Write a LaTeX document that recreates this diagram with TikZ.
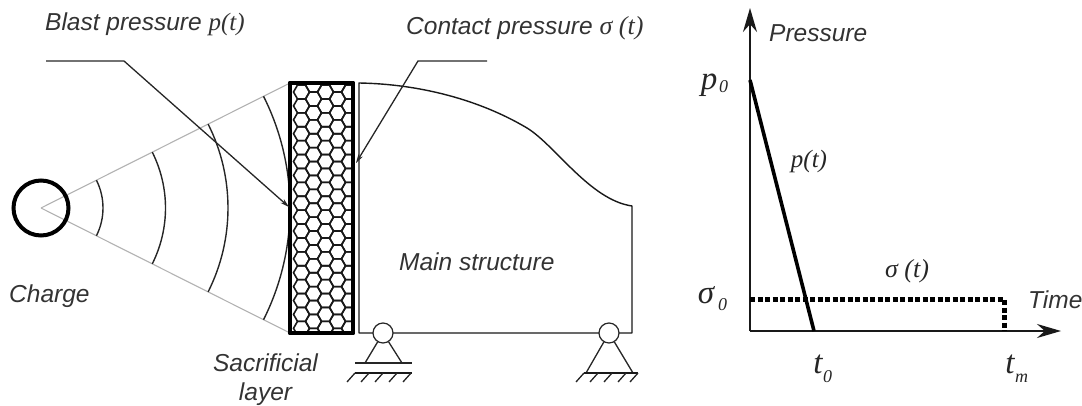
\documentclass[tikz,border=0pt]{standalone}
\usepackage{fontspec}
\setmainfont{Liberation Sans}
\newfontfamily\serifit[Ligatures=TeX]{Liberation Serif}
\usetikzlibrary{arrows.meta,calc}
\tikzset{
 lab/.style={font=\fontsize{24.5}{29}\selectfont\itshape,text=black!80,inner sep=0pt,align=center},
 smalllab/.style={font=\fontsize{25}{30}\selectfont\serifit\itshape,text=black!85,inner sep=0pt},
 bigsym/.style={font=\fontsize{33}{38}\selectfont\serifit\itshape,text=black!85,inner sep=0pt},
 subsym/.style={font=\fontsize{18}{22}\selectfont\serifit\itshape,text=black!85,inner sep=0pt},
 thinline/.style={line width=1.3pt,black!85},
 ray/.style={line width=1.1pt,black!30},
 wave/.style={line width=1.4pt,black!85},
 thick box/.style={line width=4.5pt,black,line join=round},
 hinge/.style={circle,draw=black!85,line width=1.2pt,fill=white,minimum size=20pt,inner sep=0pt},
 leader/.style={line width=1.3pt,black!85,-{Stealth[length=9pt,width=5pt]}},
 axisline/.style={line width=1.6pt,black!90,-{Stealth[length=24pt,width=14pt]}},
}
\begin{document}
\begin{tikzpicture}[x=1pt,y=-1pt]
\useasboundingbox (0,0) rectangle (1082,406);
% charge and wave fronts
\coordinate (o) at (41,208);
\coordinate (rayT) at (290,83);
\coordinate (rayB) at (290,333);
\draw[ray] (o) -- (rayT);
\draw[ray] (o) -- (rayB);
\foreach \r in {62,124.5,187,249}{
  \draw[wave] ($(o)+(\r*0.8937,-\r*0.4487)$) arc[start angle=-26.66,end angle=26.66,radius=\r];
}
\node[circle,draw=black,line width=4pt,minimum size=55pt,inner sep=0pt] (charge) at (o) {};
% sacrificial layer
\node[rectangle,fill=white,minimum width=63pt,minimum height=250pt,inner sep=0pt] (layer) at (321.5,208) {};
\begin{scope}
\clip (290,83) rectangle (353,333);
\foreach \c in {0,...,5}{
  \pgfmathsetmacro{\cx}{301.5+12*\c}
  \pgfmathsetmacro{\off}{mod(\c,2)*7}
  \foreach \n in {-1,...,18}{
    \pgfmathsetmacro{\cy}{92+13.9*\n+\off}
    \draw[line width=1.6pt,black!90,shift={(\cx,\cy)}]
      (0:8) -- (60:8) -- (120:8) -- (180:8) -- (240:8) -- (300:8) -- cycle;
  }
}
\end{scope}
\draw[thick box] (layer.north west) rectangle (layer.south east);
% main structure
\coordinate (msA) at (359,333);
\coordinate (msB) at (359,83);
\coordinate (msM) at (527,128);
\coordinate (msC) at (632,206);
\coordinate (msD) at (632,333);
\draw[line width=1.4pt,black!90,line join=round] (msA) -- (msB)
  .. controls (420,84) and (480,100) .. (msM)
  .. controls (555,145) and (590,200) .. (msC) -- (msD) -- cycle;
% supports
\node[hinge] (h1) at (383,333) {};
\node[hinge] (h2) at (609,333) {};
\draw[thinline] (h1) -- (365,363);
\draw[thinline] (h1) -- (402,363);
\draw[thinline] (355,363) -- (412,363);
\draw[line width=1.6pt,black!90] (355,373) -- (412,373);
\foreach \x in {355,369,383,397,411}{\draw[thinline] (\x,373) -- (\x-8,382);}
\draw[thinline] (h2) -- (586,373);
\draw[thinline] (h2) -- (633,373);
\draw[line width=1.6pt,black!90] (584,373) -- (638,373);
\foreach \x in {584,598,612,626,638}{\draw[thinline] (\x,373) -- (\x-8,382);}
% leaders
\coordinate (l1a) at (46,61);
\coordinate (l1b) at (124,61);
\coordinate (l1c) at (289,207);
\coordinate (l2a) at (487,61);
\coordinate (l2b) at (418,61);
\coordinate (l2c) at (356,163);
\draw[leader] (l1a) -- (l1b) -- (l1c);
\draw[leader] (l2a) -- (l2b) -- (l2c);
% left labels
\node[lab,anchor=base west] (tblast) at (45,31) {Blast pressure {\serifit\fontsize{25}{30}\selectfont p(t)}};
\node[lab,anchor=base west] (tcontact) at (406,35) {Contact pressure {\serifit\fontsize{26}{30}\selectfont σ (t)}};
\node[lab,anchor=base west] (tcharge) at (9,302) {Charge};
\node[lab,anchor=center] (tsac) at (265.5,380) {Sacrificial\\layer};
\node[lab,anchor=base west] (tmain) at (399,271) {Main structure};
% graph
\coordinate (g0) at (750,331);
\coordinate (gy) at (750,8);
\coordinate (gx) at (1061,331);
\coordinate (gp) at (750,80);
\coordinate (gt) at (814,331);
\coordinate (gs) at (750,299);
\coordinate (gm) at (1004,299);
\coordinate (gn) at (1004,331);
\draw[axisline] (g0) -- (gy);
\draw[axisline] (g0) -- (gx);
\draw[line width=3.6pt,black] (gp) -- (gt);
\draw[line width=5pt,black,dash pattern=on 5pt off 2.5pt] (gs) -- (gm) -- (gn);
\node[lab,anchor=base west] (tpress) at (769,42) {Pressure};
\node[lab,anchor=base west] (ttime) at (1028,308) {Time};
\node[bigsym,anchor=base] (tp0) at (709,90) {p};
\node[subsym,anchor=base west] (tp0s) at (719,92.5) {0};
\node[smalllab,anchor=base] (tpt) at (809,168) {p(t)};
\node[smalllab,font=\fontsize{26}{30}\selectfont\serifit\itshape,anchor=base] (tst) at (907,277) {σ (t)};
\node[bigsym,anchor=base] (ts0) at (706,303) {σ};
\node[subsym,anchor=base west] (ts0s) at (718,310) {0};
\node[bigsym,anchor=base] (tt0) at (818,373) {t};
\node[subsym,anchor=base west] (tt0s) at (823,382) {0};
\node[bigsym,anchor=base] (ttm) at (1010,373) {t};
\node[subsym,anchor=base west] (ttms) at (1015,382) {m};
\end{tikzpicture}
\end{document}
